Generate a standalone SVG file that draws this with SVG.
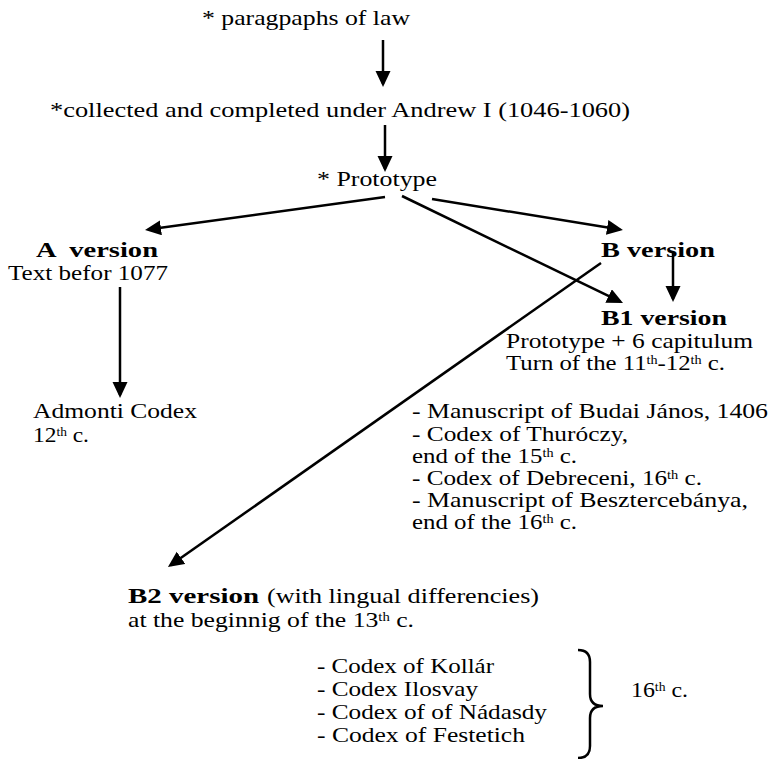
<svg xmlns="http://www.w3.org/2000/svg" width="778" height="759" viewBox="0 0 778 759">
<defs>
<style>
text{font-family:"Liberation Serif","Times New Roman",serif;font-size:21px;fill:#000}
.b{font-weight:bold}
.sup{font-size:12px}
.c{stroke:#000;stroke-width:2.5;fill:none}
</style>
<marker id="ah" markerUnits="userSpaceOnUse" markerWidth="17" markerHeight="16" refX="13" refY="7.5" orient="auto">
<path d="M0,0 L16,7.5 L0,15 z" fill="#000"/>
</marker>
</defs>
<rect width="778" height="759" fill="#fff"/>
<g id="connectors">
<line class="c" x1="383" y1="40" x2="383" y2="84" marker-end="url(#ah)"/>
<line class="c" x1="385" y1="125" x2="385" y2="169" marker-end="url(#ah)"/>
<line class="c" x1="385" y1="197" x2="148" y2="229.6" marker-end="url(#ah)"/>
<line class="c" x1="432" y1="199" x2="620" y2="229.5" marker-end="url(#ah)"/>
<line class="c" x1="402" y1="196" x2="620.3" y2="301.7" marker-end="url(#ah)"/>
<line class="c" x1="673" y1="252" x2="673" y2="299" marker-end="url(#ah)"/>
<line class="c" x1="601" y1="263" x2="170.4" y2="565.3" marker-end="url(#ah)"/>
<line class="c" x1="120" y1="287" x2="120" y2="395" marker-end="url(#ah)"/>
<path class="c" stroke-width="2" d="M578,650 Q590,650 590,662 L590,694 Q590,706 603,706 Q590,706 590,718 L590,746 Q590,758 578,758"/>
</g>
<g font-family="Liberation Serif, Times New Roman, serif">
<g id="paragraphs"><text x="202" y="25" textLength="208" lengthAdjust="spacingAndGlyphs">* paragpaphs of law</text></g>
<g id="collected"><text x="50" y="117" textLength="580" lengthAdjust="spacingAndGlyphs">*collected and completed under Andrew I (1046-1060)</text></g>
<g id="prototype"><text x="317" y="186" textLength="120" lengthAdjust="spacingAndGlyphs">* Prototype</text></g>
<g id="a-version">
<text class="b" x="36" y="257" xml:space="preserve" textLength="122" lengthAdjust="spacingAndGlyphs">A  version</text>
<text x="8" y="280" textLength="160" lengthAdjust="spacingAndGlyphs">Text befor 1077</text>
</g>
<g id="admonti">
<text x="33" y="418" textLength="164" lengthAdjust="spacingAndGlyphs">Admonti Codex</text>
<text x="33" y="442" textLength="56" lengthAdjust="spacingAndGlyphs">12<tspan class="sup" dy="-6">th</tspan><tspan dy="6"> c.</tspan></text>
</g>
<g id="b-version"><text class="b" x="601" y="257" textLength="114" lengthAdjust="spacingAndGlyphs">B version</text></g>
<g id="b1-version">
<text class="b" x="601" y="325" textLength="126" lengthAdjust="spacingAndGlyphs">B1 version</text>
<text x="506" y="348" textLength="247" lengthAdjust="spacingAndGlyphs">Prototype + 6 capitulum</text>
<text x="506" y="370" textLength="219" lengthAdjust="spacingAndGlyphs">Turn of the 11<tspan class="sup" dy="-6">th</tspan><tspan dy="6">-12</tspan><tspan class="sup" dy="-6">th</tspan><tspan dy="6"> c.</tspan></text>
</g>
<g id="b1-manuscripts">
<text x="412" y="418" textLength="356" lengthAdjust="spacingAndGlyphs">- Manuscript of Budai János, 1406</text>
<text x="412" y="440.5" textLength="216" lengthAdjust="spacingAndGlyphs">- Codex of Thuróczy,</text>
<text x="412" y="463" textLength="165" lengthAdjust="spacingAndGlyphs">end of the 15<tspan class="sup" dy="-6">th</tspan><tspan dy="6"> c.</tspan></text>
<text x="412" y="485" textLength="290" lengthAdjust="spacingAndGlyphs">- Codex of Debreceni, 16<tspan class="sup" dy="-6">th</tspan><tspan dy="6"> c.</tspan></text>
<text x="412" y="506.5" textLength="336" lengthAdjust="spacingAndGlyphs">- Manuscript of Besztercebánya,</text>
<text x="412" y="529" textLength="165" lengthAdjust="spacingAndGlyphs">end of the 16<tspan class="sup" dy="-6">th</tspan><tspan dy="6"> c.</tspan></text>
</g>
<g id="b2-version">
<text class="b" x="128" y="603" textLength="131" lengthAdjust="spacingAndGlyphs">B2 version</text>
<text x="267" y="603" textLength="272" lengthAdjust="spacingAndGlyphs">(with lingual differencies)</text>
<text x="128" y="627" textLength="286" lengthAdjust="spacingAndGlyphs">at the beginnig of the 13<tspan class="sup" dy="-6">th</tspan><tspan dy="6"> c.</tspan></text>
</g>
<g id="b2-codices">
<text x="317" y="673" textLength="177" lengthAdjust="spacingAndGlyphs">- Codex of Kollár</text>
<text x="317" y="696" textLength="161" lengthAdjust="spacingAndGlyphs">- Codex Ilosvay</text>
<text x="317" y="719" textLength="230" lengthAdjust="spacingAndGlyphs">- Codex of of Nádasdy</text>
<text x="317" y="742" textLength="208" lengthAdjust="spacingAndGlyphs">- Codex of Festetich</text>
</g>
<g id="century"><text x="631" y="697" textLength="57" lengthAdjust="spacingAndGlyphs">16<tspan class="sup" dy="-6">th</tspan><tspan dy="6"> c.</tspan></text></g>
</g>
</svg>
